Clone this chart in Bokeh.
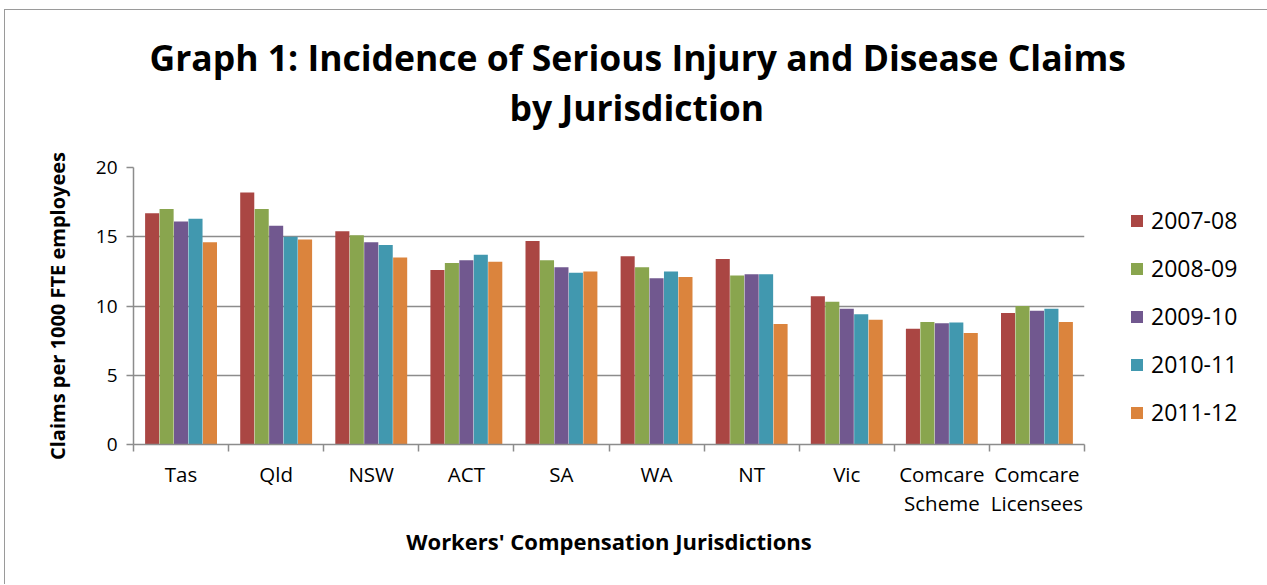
import numpy as np
from bokeh.plotting import figure
from bokeh.models import Range1d, FixedTicker, Legend, LegendItem, Title, LinearAxis
from bokeh.embed import file_html
from bokeh.resources import INLINE

categories = ["Tas", "Qld", "NSW", "ACT", "SA", "WA", "NT", "Vic",
              "Comcare\nScheme", "Comcare\nLicensees"]
years = ["2007-08", "2008-09", "2009-10", "2010-11", "2011-12"]
v_2007_08 = [16.7, 18.2, 15.4, 12.6, 14.7, 13.6, 13.4, 10.7, 8.35, 9.5]
v_2008_09 = [17.0, 17.0, 15.1, 13.1, 13.3, 12.8, 12.2, 10.3, 8.85, 10.0]
v_2009_10 = [16.1, 15.8, 14.6, 13.3, 12.8, 12.0, 12.3, 9.8, 8.75, 9.65]
v_2010_11 = [16.3, 15.0, 14.4, 13.7, 12.4, 12.5, 12.3, 9.4, 8.8, 9.8]
v_2011_12 = [14.6, 14.8, 13.5, 13.2, 12.5, 12.1, 8.7, 9.0, 8.05, 8.85]
series = [v_2007_08, v_2008_09, v_2009_10, v_2010_11, v_2011_12]
colors = ["#AA4643", "#89A54E", "#71588F", "#4198AF", "#DB843D"]
y_ticks = [0, 5, 10, 15, 20]
title_lines = ["Graph 1: Incidence of Serious Injury and Disease Claims", "by Jurisdiction"]

FONT = "Open Sans"
GRID = "#8c8c8c"

n = len(categories)
p = figure(frame_width=951, frame_height=277, output_backend="svg", toolbar_location=None,
           x_range=Range1d(0, n), y_range=Range1d(0, 20),
           min_border_left=128, min_border_right=177, min_border_top=157,
           min_border_bottom=140)
p.outline_line_color = None
p.background_fill_color = "white"
p.border_fill_color = "white"
p.styles = {"border-top": "1.5px solid #9a9a9a", "border-left": "1.5px solid #9a9a9a",
            "border-right": "1.5px solid #9a9a9a", "margin": "9px 0 0 4px"}

xa = p.below[0]
ya = p.left[0]

centers = np.arange(n) + 0.5
step = 0.152
renderers = []
for i, (vals, col) in enumerate(zip(series, colors)):
    r = p.vbar(x=centers + (i - 2) * step, top=vals, width=0.148, bottom=0,
               fill_color=col, line_color=None)
    renderers.append(r)

# spacer between frame and title (an invisible axis: one hidden tick, no label)
mid = n / 2
spacer = LinearAxis(ticker=FixedTicker(ticks=[mid], minor_ticks=[]), axis_line_color=None,
                    major_tick_out=37, major_tick_in=0, minor_tick_out=0, minor_tick_in=0,
                    major_label_standoff=0, major_tick_line_color=None,
                    minor_tick_line_color=None, major_label_text_font_size="0px",
                    major_label_overrides={mid: ""})
p.add_layout(spacer, "above")

# two title lines, each centred on the whole chart
title_offsets = [16, 376]
for txt, off in zip(title_lines[::-1], title_offsets[::-1]):
    t = Title(text=txt, align="left", offset=off, standoff=0,
              text_font=FONT, text_font_size="35.5px", text_font_style="bold",
              text_color="black")
    p.add_layout(t, "above")

# x axis
xa.ticker = FixedTicker(ticks=list(centers), minor_ticks=list(range(n + 1)))
xa.major_label_overrides = {float(c): lab for c, lab in zip(centers, categories)}
xa.major_tick_out = 0
xa.major_tick_in = 0
xa.minor_tick_out = 7
xa.minor_tick_in = 0
xa.minor_tick_line_color = GRID
xa.minor_tick_line_width = 1.5
xa.axis_line_color = GRID
xa.axis_line_width = 1.5
xa.major_label_text_font = FONT
xa.major_label_text_font_size = "20.5px"
xa.major_label_text_line_height = 1.05
xa.major_label_text_color = "black"
xa.major_label_standoff = 8
xa.axis_label = "Workers' Compensation Jurisdictions"
xa.axis_label_text_font = FONT
xa.axis_label_text_font_size = "22px"
xa.axis_label_text_font_style = "bold"
xa.axis_label_text_color = "black"
xa.axis_label_standoff = 6

# y axis
ya.ticker = FixedTicker(ticks=y_ticks)
ya.minor_tick_out = 0
ya.minor_tick_in = 0
ya.major_tick_out = 7
ya.major_tick_in = 0
ya.major_tick_line_color = GRID
ya.major_tick_line_width = 1.5
ya.axis_line_color = GRID
ya.axis_line_width = 1.5
ya.major_label_text_font = FONT
ya.major_label_text_font_size = "19px"
ya.major_label_text_color = "black"
ya.major_label_standoff = 9
ya.axis_label = "Claims per 1000 FTE employees"
ya.axis_label_text_font = FONT
ya.axis_label_text_font_size = "20px"
ya.axis_label_text_font_style = "bold"
ya.axis_label_text_color = "black"
ya.axis_label_standoff = 22

p.xgrid.grid_line_color = None
p.ygrid.ticker = FixedTicker(ticks=y_ticks)
p.ygrid.grid_line_color = GRID
p.ygrid.grid_line_width = 1.5

legend = Legend(items=[LegendItem(label=y, renderers=[r]) for y, r in zip(years, renderers)],
                location=(45, 16), orientation="vertical")
legend.label_text_font = FONT
legend.label_text_font_size = "23px"
legend.label_text_color = "black"
legend.glyph_width = 15
legend.glyph_height = 15
legend.label_height = 30
legend.spacing = 16
legend.label_standoff = 7
legend.padding = 0
legend.margin = 0
legend.border_line_color = None
legend.background_fill_alpha = 0
p.add_layout(legend, "right")

open("out.html", "w").write(file_html(p, INLINE))
